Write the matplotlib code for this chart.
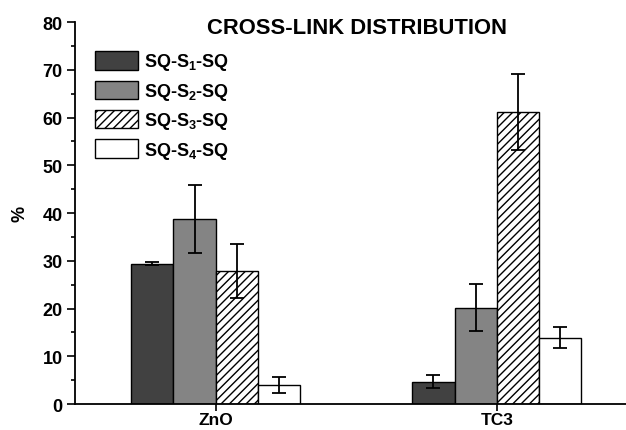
import matplotlib
matplotlib.use("Agg")
import matplotlib.pyplot as plt
import numpy as np
from matplotlib.ticker import MultipleLocator

plt.rcParams["font.family"] = ["Liberation Sans", "DejaVu Sans"]
plt.rcParams["font.weight"] = "bold"
plt.rcParams["mathtext.fontset"] = "custom"
plt.rcParams["mathtext.rm"] = "Liberation Sans:bold"
plt.rcParams["mathtext.it"] = "Liberation Sans:bold"
plt.rcParams["mathtext.bf"] = "Liberation Sans:bold"
plt.rcParams["hatch.linewidth"] = 1.0

groups = ["ZnO", "TC3"]
series = ["SQ-S$_1$-SQ", "SQ-S$_2$-SQ", "SQ-S$_3$-SQ", "SQ-S$_4$-SQ"]
values = [
    [29.4, 4.7],
    [38.7, 20.2],
    [27.9, 61.2],
    [4.0, 13.9],
]
errors = [
    [0.3, 1.4],
    [7.1, 5.0],
    [5.7, 8.0],
    [1.6, 2.2],
]

faces = ["#414141", "#848484", "white", "white"]
hatches = [None, None, "////", None]

fig = plt.figure(figsize=(6.26, 4.31), dpi=100)
ax = fig.add_axes([0.12, 0.0603, 0.88, 0.8863])

x = np.arange(len(groups))
w = 0.15
for i, name in enumerate(series):
    pos = x + (i - 1.5) * w
    ax.bar(pos, values[i], width=w, color=faces[i], edgecolor="black",
           linewidth=1.0, hatch=hatches[i], label=name, zorder=2)
    ax.errorbar(pos, values[i], yerr=errors[i], fmt="none", ecolor="black",
                elinewidth=1.3, capsize=5, capthick=1.3, zorder=3)

ax.set_xlim(-0.5, 1.46)
ax.set_ylim(0, 80)
ax.set_xticks(x)
ax.set_xticklabels(groups, fontsize=12.5, fontweight="bold")
ax.yaxis.set_major_locator(MultipleLocator(10))
ax.yaxis.set_minor_locator(MultipleLocator(5))
ax.tick_params(axis="y", which="major", direction="out", length=6, width=1.2,
               labelsize=13, pad=3)
ax.tick_params(axis="y", which="minor", direction="out", length=3, width=1.2)
ax.tick_params(axis="x", direction="out", length=5, width=1.2, labelsize=12.5,
               pad=0.5)
for side in ("top", "right"):
    ax.spines[side].set_visible(False)
for side in ("left", "bottom"):
    ax.spines[side].set_linewidth(1.3)

ax.set_ylabel("%", fontsize=13, fontweight="bold", labelpad=10)
ax.text(0.511, 0.971, "CROSS-LINK DISTRIBUTION", transform=ax.transAxes,
        ha="center", va="baseline", fontsize=15.8, fontweight="bold")

ax.legend(loc="upper left", bbox_to_anchor=(0.036, 0.924), frameon=False,
          fontsize=13, handlelength=2.4, handleheight=1.2, labelspacing=0.45,
          handletextpad=0.3, borderpad=0, borderaxespad=0)

fig.savefig("out.png", dpi=100)
